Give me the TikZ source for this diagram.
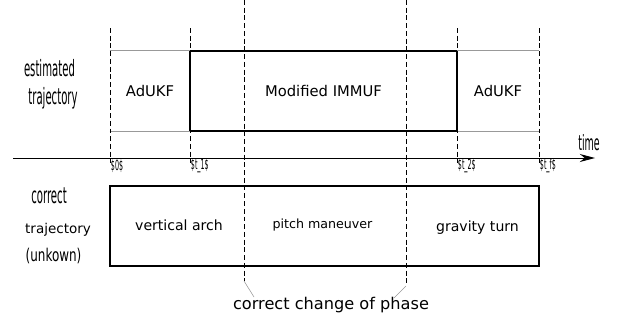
\documentclass[tikz,border=0pt]{standalone}
\usepackage{fontspec}
\setmainfont{DejaVu Sans}
\newfontfamily\narrowfont{DejaVu Sans}[FakeStretch=0.45]
\newfontfamily\halfnarrowfont{DejaVu Sans}[FakeStretch=0.68]
\usetikzlibrary{arrows.meta}

\tikzstyle{phase}=[rectangle, inner sep=0cm, minimum height=2cm]
\tikzstyle{boxline}=[line width=1.2pt]
\tikzstyle{thinline}=[gray!80, line width=0.6pt]
\tikzstyle{switch}=[dash pattern=on 3.5pt off 2pt, line width=0.7pt]
\tikzstyle{tick}=[inner sep=0.5pt, font=\narrowfont\fontsize{10}{11}\selectfont]
\tikzstyle{side}=[inner sep=0.5pt, font=\narrowfont\fontsize{16}{18}\selectfont]

\begin{document}
\begin{tikzpicture}

  \useasboundingbox (0, 0) rectangle (15.5, 8.1);

  %%%%%%%%%%%%%%%%%%%%%%%%%%%%%%
  % estimated trajectory
  \node (UkfA) at (3.75, 5.825) [phase, minimum width=2cm] {\fontsize{10.5}{12}\selectfont AdUKF};
  \node (Immuf) at (8.0875, 5.825) [phase, draw, boxline, minimum width=6.675cm] {\fontsize{10.5}{12}\selectfont Modified IMMUF};
  \node (UkfB) at (12.45, 5.825) [phase, minimum width=2.05cm] {\fontsize{10.5}{12}\selectfont AdUKF};

  \draw [thinline] (UkfA.north west) -- (UkfA.north east);
  \draw [thinline] (UkfA.south west) -- (UkfA.south east);
  \draw [thinline] (UkfB.north west) -- (UkfB.north east);
  \draw [thinline] (UkfB.south west) -- (UkfB.south east);

  \node (est) at (1.2375, 6.4) [side] {estimated};
  \node (estTraj) at (1.325, 5.65) [side] {trajectory};

  %%%%%%%%%%%%%%%%%%%%%%%%%%%%%%
  % time axis
  \coordinate (axStart) at (0.325, 4.15);
  \coordinate (axEnd) at (14.875, 4.15);
  \draw [-{Stealth[length=0.38cm, width=0.2cm]}, line width=0.7pt] (axStart) -- (axEnd);
  \begin{scope}
    \clip (0, 0) rectangle (15.05, 8.1);
    \node (time) at (14.45, 4.525) [anchor=west, inner sep=0pt, font=\narrowfont\fontsize{15}{17}\selectfont] {time};
  \end{scope}

  \foreach \x/\name/\lab in {2.75/zero/\$0\$, 4.75/tone/\$t\_1\$,
                             11.425/ttwo/\$t\_2\$, 13.475/tf/\$t\_f\$}{
    \coordinate (\name Top) at (\x, 7.4);
    \coordinate (\name Bot) at (\x, 4.025);
    \draw [switch] (\name Top) -- (\name Bot);
    \node (\name Lab) at (\x, 3.95) [tick, anchor=west] {\lab};
  }

  %%%%%%%%%%%%%%%%%%%%%%%%%%%%%%
  % correct trajectory
  \node (correct) at (8.1125, 2.45) [phase, draw, boxline, minimum width=10.725cm] {};
  \node (arch) at (4.475, 2.475) {\fontsize{10}{12}\selectfont vertical arch};
  \node (pitch) at (8.0625, 2.475) {\fontsize{9}{11}\selectfont pitch maneuver};
  \node (gravity) at (11.9375, 2.4) {\fontsize{10}{12}\selectfont gravity turn};

  \node (cor) at (1.225, 3.2125) [side] {correct};
  \node (corTraj) at (1.45, 2.3625) [inner sep=0.5pt, font=\fontsize{9.6}{11}\selectfont] {trajectory};
  \node (unk) at (1.3375, 1.7125) [inner sep=0.5pt, font=\halfnarrowfont\fontsize{12.5}{14}\selectfont] {(unkown)};

  %%%%%%%%%%%%%%%%%%%%%%%%%%%%%%
  % real change of phase
  \coordinate (chA) at (6.1, 8.1);
  \coordinate (chAEnd) at (6.1, 1.075);
  \coordinate (chB) at (10.15, 8.1);
  \coordinate (chBEnd) at (10.15, 0.95);
  \draw [switch] (chA) -- (chAEnd);
  \draw [switch] (chB) -- (chBEnd);

  \node (change) at (8.275, 0.475) [font=\fontsize{11.5}{13}\selectfont] {correct change of phase};
  \coordinate (pinA) at (6.35, 0.675);
  \coordinate (pinB) at (9.85, 0.65);
  \draw [thinline, line width=0.4pt] (chAEnd) -- (pinA);
  \draw [thinline, line width=0.4pt] (chBEnd) -- (pinB);

\end{tikzpicture}
\end{document}
